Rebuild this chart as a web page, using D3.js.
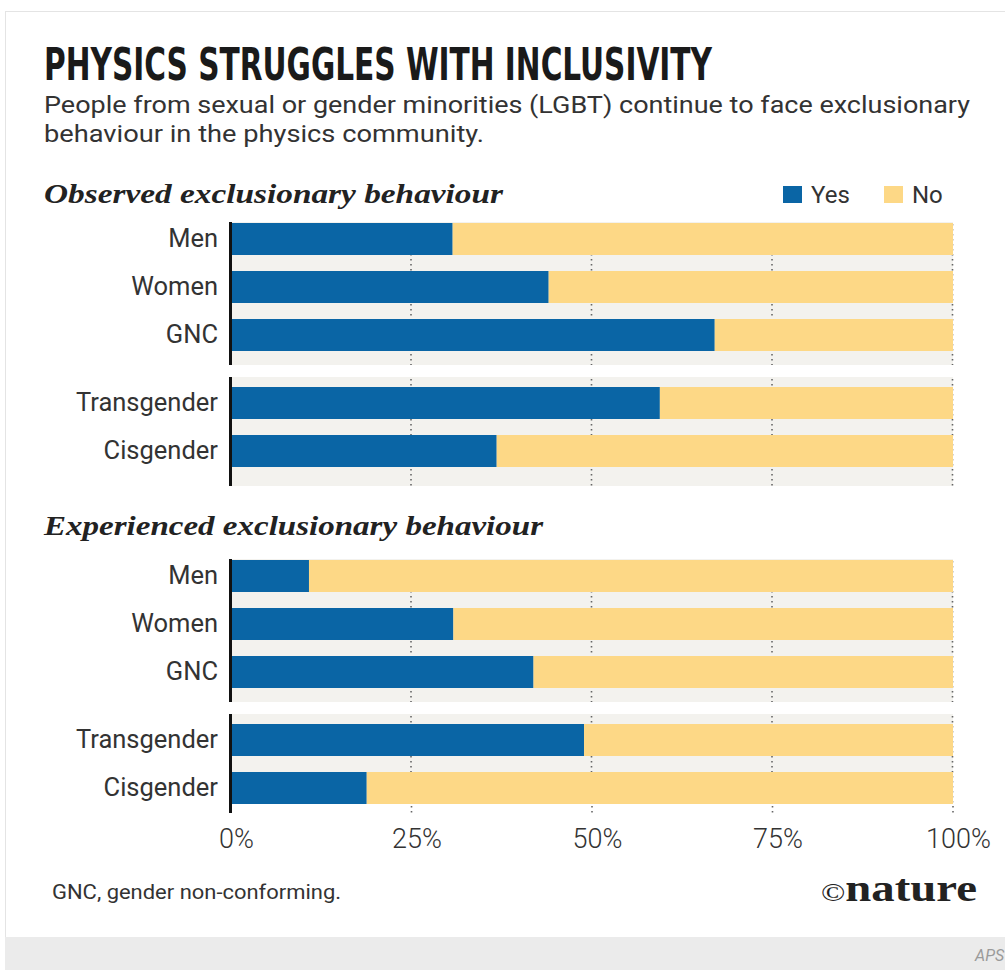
<!DOCTYPE html>
<html>
<head>
<meta charset="utf-8">
<script src="https://cdn.jsdelivr.net/npm/d3@7"></script>
<style>
  body { margin: 0; background: #fff; }
  svg { display: block; }
</style>
</head>
<body>
<div id="chart"></div>
<script>
// ---- data ----
var groupA = ["Men", "Women", "GNC"];
var groupB = ["Transgender", "Cisgender"];
var observedYes = [30.7, 44.0, 67.0, 59.4, 36.8];
var experiencedYes = [10.8, 30.8, 41.9, 48.9, 18.8];
var panelTitles = ["Observed exclusionary behaviour", "Experienced exclusionary behaviour"];
var legendKeys = ["Yes", "No"];
var tickValues = [0, 25, 50, 75, 100];

// ---- canvas ----
var svgWidth = 1005;
var svgHeight = 970;
var colors = { Yes: "#0a65a5", No: "#fdd886" };
var bandBg = "#f3f2ee";
var textCol = "#333";

var svg = d3.select("#chart")
    .append("svg")
    .attr("width", svgWidth)
    .attr("height", svgHeight);

// card frame + grey strip at bottom
svg.append("rect")
    .attr("x", 5.5).attr("y", 11.5)
    .attr("width", 1010).attr("height", 926)
    .attr("fill", "#fff")
    .attr("stroke", "#e4e4e4");
svg.append("rect")
    .attr("x", 5).attr("y", 937)
    .attr("width", 1000).attr("height", 33)
    .attr("fill", "#ebebeb");
svg.append("text")
    .attr("x", 975).attr("y", 961)
    .attr("font-family", "Roboto, sans-serif")
    .attr("font-style", "italic")
    .attr("font-size", 16)
    .attr("fill", "#9a9a9a")
    .text("APS");

// title + subtitle
svg.append("text")
    .attr("x", 44).attr("y", 80)
    .attr("font-family", "'DejaVu Sans Condensed', 'DejaVu Sans', sans-serif")
    .attr("font-weight", "bold")
    .attr("font-size", 45)
    .attr("fill", "#1a1a1a")
    .attr("textLength", 668)
    .attr("lengthAdjust", "spacingAndGlyphs")
    .text("PHYSICS STRUGGLES WITH INCLUSIVITY");

var subLines = [
    { t: "People from sexual or gender minorities (LGBT) continue to face exclusionary", w: 926, y: 113 },
    { t: "behaviour in the physics community.", w: 440, y: 142 }
];
svg.selectAll(".sub")
    .data(subLines)
    .enter().append("text")
    .attr("class", "sub")
    .attr("x", 44)
    .attr("y", d => d.y)
    .attr("font-family", "Roboto, 'Liberation Sans', sans-serif")
    .attr("font-size", 24)
    .attr("fill", textCol)
    .attr("textLength", d => d.w)
    .attr("lengthAdjust", "spacingAndGlyphs")
    .text(d => d.t);

// legend
var legend = svg.append("g");
var legendX = { Yes: 783, No: 884 };
legendKeys.forEach(function(k) {
    legend.append("rect")
        .attr("x", legendX[k]).attr("y", 186)
        .attr("width", 19).attr("height", 17)
        .attr("fill", colors[k]);
    legend.append("text")
        .attr("x", legendX[k] + 28).attr("y", 203)
        .attr("font-family", "Roboto, 'Liberation Sans', sans-serif")
        .attr("font-size", 24)
        .attr("fill", textCol)
        .text(k);
});

// x scale
var x = d3.scaleLinear()
    .domain([0, 100])
    .range([231, 953]);

var stack = d3.stack().keys(legendKeys);

// panels
var panels = [
    { title: panelTitles[0], titleY: 203, top: 223, yes: observedYes, extra: 19, titleW: 459 },
    { title: panelTitles[1], titleY: 535, top: 560, yes: experiencedYes, extra: 0, titleW: 499 }
];

panels.forEach(function(p, pi) {
    var cats = groupA.concat(groupB);
    var rows = cats.map(function(c, i) {
        return { cat: c, Yes: p.yes[i], No: 100 - p.yes[i] };
    });

    svg.append("text")
        .attr("x", 44).attr("y", p.titleY)
        .attr("font-family", "'Liberation Serif', 'DejaVu Serif', serif")
        .attr("font-weight", "bold")
        .attr("font-style", "italic")
        .attr("font-size", 28)
        .attr("fill", "#222")
        .attr("textLength", p.titleW)
        .attr("lengthAdjust", "spacingAndGlyphs")
        .text(p.title);

    // row bands for each group
    var yA = d3.scaleBand()
        .domain(groupA)
        .range([p.top, p.top + groupA.length * 48 - 16])
        .paddingInner(1 / 3);
    var yB = d3.scaleBand()
        .domain(groupB)
        .range([p.top + 164, p.top + 164 + groupB.length * 48 - 16])
        .paddingInner(1 / 3);
    var yOf = function(c) { return groupA.includes(c) ? yA(c) : yB(c); };
    var bw = yA.bandwidth();

    var groups = [
        { y0: p.top - 1, y1: p.top + 142, line1: p.top + 142 },
        { y0: p.top + 154, y1: p.top + 244 + p.extra, line1: p.top + 244 + p.extra + (pi === 1 ? 9 : 0) }
    ];

    var g = svg.append("g");

    g.selectAll(".bg")
        .data(groups)
        .enter().append("rect")
        .attr("x", x(0)).attr("y", d => d.y0)
        .attr("width", x(100) - x(0))
        .attr("height", d => d.y1 - d.y0)
        .attr("fill", bandBg);

    // dotted grid
    groups.forEach(function(gr) {
        g.selectAll(null)
            .data(tickValues.slice(1))
            .enter().append("line")
            .attr("x1", d => x(d) - 0.5).attr("x2", d => x(d) - 0.5)
            .attr("y1", gr.y0 + 2).attr("y2", gr.y1)
            .attr("stroke", "#666")
            .attr("stroke-width", 1.6)
            .attr("stroke-dasharray", "1.6,3.4");
    });

    // stacked bars
    var series = stack(rows);
    g.selectAll(".series")
        .data(series)
        .enter().append("g")
        .attr("fill", d => colors[d.key])
        .selectAll("rect")
        .data(d => d)
        .enter().append("rect")
        .attr("x", d => x(d[0]))
        .attr("y", d => yOf(d.data.cat))
        .attr("width", d => x(d[1]) - x(d[0]))
        .attr("height", bw);

    // category labels
    g.selectAll(".cat")
        .data(cats)
        .enter().append("text")
        .attr("x", 218)
        .attr("y", d => yOf(d) + bw / 2 + 8)
        .attr("text-anchor", "end")
        .attr("font-family", "Roboto, 'Liberation Sans', sans-serif")
        .attr("font-size", 25.5)
        .attr("fill", textCol)
        .text(d => d);

    // black baseline per group
    g.selectAll(".axisline")
        .data(groups)
        .enter().append("line")
        .attr("x1", x(0) - 0.5).attr("x2", x(0) - 0.5)
        .attr("y1", d => d.y0).attr("y2", d => d.line1)
        .attr("stroke", "#111")
        .attr("stroke-width", 3);
});

// bottom axis
var bottomAxis = d3.axisBottom(x)
    .tickValues(tickValues)
    .tickSize(10)
    .tickFormat(d => d + "%");

var axisG = svg.append("g")
    .attr("transform", "translate(0, 806)")
    .call(bottomAxis);

axisG.select(".domain").remove();
axisG.selectAll(".tick line")
    .attr("stroke", "#666")
    .attr("stroke-width", 1.6)
    .attr("stroke-dasharray", "1.6,3.4")
    .attr("transform", "translate(-0.5,0)")
    .filter(d => d === 0).remove();
axisG.selectAll(".tick text")
    .attr("y", 42)
    .attr("dy", 0)
    .attr("dx", 5)
    .attr("font-family", "Roboto, 'Liberation Sans', sans-serif")
    .attr("font-weight", 300)
    .attr("font-size", 27)
    .attr("fill", textCol);

// footer
svg.append("text")
    .attr("x", 52).attr("y", 899)
    .attr("font-family", "Roboto, 'Liberation Sans', sans-serif")
    .attr("font-size", 20)
    .attr("fill", textCol)
    .attr("textLength", 289)
    .attr("lengthAdjust", "spacingAndGlyphs")
    .text("GNC, gender non-conforming.");

var logo = svg.append("text")
    .attr("x", 821).attr("y", 901)
    .attr("font-family", "'Liberation Serif', 'DejaVu Serif', serif")
    .attr("font-weight", "bold")
    .attr("fill", "#222")
    .attr("textLength", 156)
    .attr("lengthAdjust", "spacingAndGlyphs");
logo.append("tspan").attr("font-size", 26).attr("font-weight", "normal").text("©");
logo.append("tspan").attr("font-size", 38).text("nature");
</script>
</body>
</html>
